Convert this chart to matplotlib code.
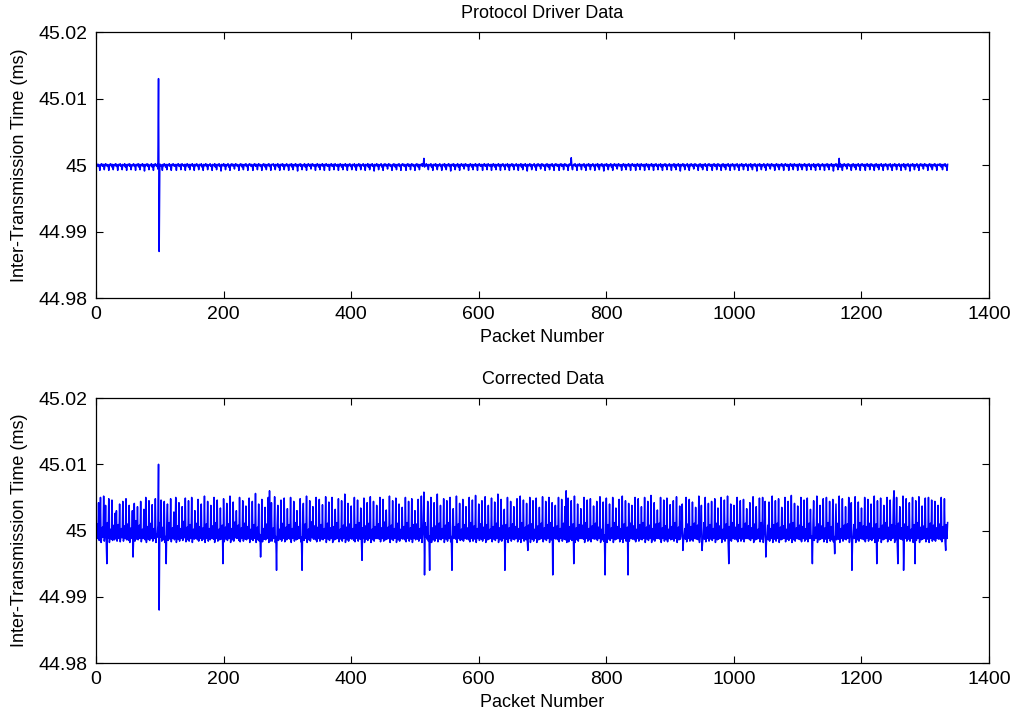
import numpy as np
import matplotlib
matplotlib.use("Agg")
import matplotlib.pyplot as plt

# values, in units of 0.0001 ms relative to 45 ms
nominal_ms = 45.0
unit_ms = 1e-4

# top panel: raw timestamps from the protocol driver
driver_dev = [
    2, 0, -2, 1, -1, -8, 1, 0, 2, -2, -1, 1, -7, 0, 2, -1, 1, -2, 0, -8,
    1, -1, 2, 0, -3, 1, -7, 0, 1, -1, 2, -2, 0, -8, 1, -1, 1, 2, -2, 0,
    -7, 1, 0, -1, 2, -3, 0, -8, 1, -1, 0, 2, -2, 1, -7, 0, -1, 1, 2, -2,
    0, -8, 1, 0, -1, 2, -3, 1, -7, 0, 1, -1, 2, -2, 0, -9, 1, -1, 0, 2,
    -2, 1, -7, 0, -1, 1, 2, -3, 0, -8, 1, -1, 2, 0, -2, 1, -6, 130, -130, 1,
    1, -2, 0, -8, 1, -1, 2, 0, -3, 1, -7, 0, 1, -1, 2, -2, 0, -8, 1, 0,
    2, -1, -2, 1, 0, -8, 1, 0, 2, -2, -1, 1, -7, 1, 2, -1, 0, -2, 1, -8,
    1, -1, 2, 0, -3, 1, -7, 0, 1, -1, 2, -2, 0, -8, 1, -1, 1, 2, -2, 0,
    -7, 1, 0, -1, 2, -3, 0, -8, 1, -1, 0, 2, -2, 1, -7, 0, -1, 1, 2, -2,
    0, -8, 1, 0, -1, 2, -3, 1, -7, 0, 1, -1, 2, -2, 0, -9, 1, -1, 0, 2,
    -2, 1, -7, 0, -1, 1, 2, -3, 0, -8, 1, -1, 2, 0, -2, 1, -6, 0, 2, -1,
    1, -2, 0, -8, 1, -1, 2, 0, -3, 1, -7, 0, 1, -1, 2, -2, 0, -8, 1, 0,
    2, 0, -2, 1, -1, -8, 1, 0, 2, -2, -1, 1, -7, 0, 2, -1, 1, -2, 0, -8,
    1, -1, 2, 0, -3, 1, -7, 0, 1, -1, 2, -2, 0, -8, 1, 0, 1, 2, -2, 0,
    -7, 1, 0, -1, 2, -3, 0, -8, 1, -1, 0, 2, -2, 1, -7, 0, -1, 1, 2, -2,
    0, -8, 1, 0, -1, 2, -3, 1, -7, 0, 1, -1, 2, -2, 0, -9, 1, -1, 0, 2,
    -2, 1, -7, 0, -1, 1, 2, -3, 0, -8, 1, -1, 2, 0, -2, 1, -6, 0, 2, -1,
    1, -2, 0, -8, 1, -1, 2, 0, -3, 1, -7, 0, 1, -1, 2, -2, 0, -8, 1, 0,
    2, -1, -2, 1, 0, -8, 1, 0, 2, -2, -1, 1, -7, 1, 2, -1, 0, -2, 1, -8,
    1, -1, 2, 0, -3, 1, -7, 0, 1, -1, 2, -2, 0, -8, 1, -1, 1, 2, -2, 0,
    -7, 1, 0, -1, 2, -3, 0, -8, 1, -1, 0, 2, -2, 1, -7, 0, -1, 1, 2, -2,
    0, -8, 1, 0, -1, 2, -3, 1, -7, 0, 1, -1, 2, -2, 0, -9, 1, -1, 0, 2,
    -2, 1, -7, 0, -1, 1, 2, -3, 0, -8, 1, -1, 2, 0, -2, 1, -6, 0, 2, -1,
    1, -2, 0, -8, 1, -1, 2, 0, -3, 1, -7, 0, 1, -1, 2, -2, 0, -8, 1, 0,
    2, 0, -2, 1, -1, -8, 1, 0, 2, -2, -1, 1, -7, 0, 2, -1, 1, -2, 0, -8,
    1, -1, 2, 0, -3, 1, -7, 0, 1, -1, 2, -2, 0, 10, -3, -1, 1, 2, -2, 0,
    -7, 1, 0, -1, 2, -3, 0, -8, 1, -1, 0, 2, -2, 1, -7, 0, -1, 1, 2, -2,
    0, -8, 1, 0, -1, 2, -3, 1, -7, 0, 1, -1, 2, -2, 0, -9, 1, -1, 0, 2,
    -2, 1, -7, 0, -1, 1, 2, -3, 0, -8, 1, -1, 2, 0, -2, 1, -6, 0, 2, -1,
    1, -2, 0, -8, 1, -1, 2, 0, -3, 1, -7, 0, 1, -1, 2, -2, 0, -8, 1, 0,
    2, -1, -2, 1, 0, -8, 1, 0, 2, -2, -1, 1, -7, 1, 2, -1, 0, -2, 1, -8,
    1, -1, 2, 0, -3, 1, -7, 0, 1, -1, 2, -2, 0, -8, 1, -1, 1, 2, -2, 0,
    -7, 1, 0, -1, 2, -3, 0, -8, 1, -1, 0, 2, -2, 1, -7, 0, -1, 1, 2, -2,
    0, -8, 1, 0, -1, 2, -3, 1, -7, 0, 1, -1, 2, -2, 0, -9, 1, -1, 0, 2,
    -2, 1, -7, 0, -1, 1, 2, -3, 0, -8, 1, -1, 2, 0, -2, 1, -6, 0, 2, -1,
    1, -2, 0, -8, 1, -1, 2, 0, -3, 1, -7, 0, 1, -1, 2, -2, 0, -8, 1, 0,
    2, 0, -2, 1, -1, -8, 1, 0, 2, -2, -1, 1, -7, 0, 2, -1, 1, -2, 0, -8,
    1, -1, 2, 0, 11, -3, -7, 0, 1, -1, 2, -2, 0, -8, 1, -1, 1, 2, -2, 0,
    -7, 1, 0, -1, 2, -3, 0, -8, 1, -1, 0, 2, -2, 1, -7, 0, -1, 1, 2, -2,
    0, -8, 1, 0, -1, 2, -3, 1, -7, 0, 1, -1, 2, -2, 0, -9, 1, -1, 0, 2,
    -2, 1, -7, 0, -1, 1, 2, -3, 0, -8, 1, -1, 2, 0, -2, 1, -6, 0, 2, -1,
    1, -2, 0, -8, 1, -1, 2, 0, -3, 1, -7, 0, 1, -1, 2, -2, 0, -8, 1, 0,
    2, -1, -2, 1, 0, -8, 1, 0, 2, -2, -1, 1, -7, 1, 2, -1, 0, -2, 1, -8,
    1, -1, 2, 0, -3, 1, -7, 0, 1, -1, 2, -2, 0, -8, 1, -1, 1, 2, -2, 0,
    -7, 1, 0, -1, 2, -3, 0, -8, 1, -1, 0, 2, -2, 1, -7, 0, -1, 1, 2, -2,
    0, -8, 1, 0, -1, 2, -3, 1, -7, 0, 1, -1, 2, -2, 0, -9, 1, -1, 0, 2,
    -2, 1, -7, 0, -1, 1, 2, -3, 0, -8, 1, -1, 2, 0, -2, 1, -6, 0, 2, -1,
    1, -2, 0, -8, 1, -1, 2, 0, -3, 1, -7, 0, 1, -1, 2, -2, 0, -8, 1, 0,
    2, 0, -2, 1, -1, -8, 1, 0, 2, -2, -1, 1, -7, 0, 2, -1, 1, -2, 0, -8,
    1, -1, 2, 0, -3, 1, -7, 0, 1, -1, 2, -2, 0, -8, 1, -1, 1, 2, -2, 0,
    -7, 1, 0, -1, 2, -3, 0, -8, 1, -1, 0, 2, -2, 1, -7, 0, -1, 1, 2, -2,
    0, -8, 1, 0, -1, 2, -3, 1, -7, 0, 1, -1, 2, -2, 0, -9, 1, -1, 0, 2,
    -2, 1, -7, 0, -1, 1, 2, -3, 0, -8, 1, -1, 2, 0, -2, 1, -6, 0, 2, -1,
    1, -2, 0, -8, 1, -1, 2, 0, -3, 1, -7, 0, 1, -1, 2, -2, 0, -8, 1, 0,
    2, -1, -2, 1, 0, -8, 1, 0, 2, -2, -1, 1, -7, 1, 2, -1, 0, -2, 1, -8,
    1, -1, 2, 0, -3, 1, -7, 0, 1, -1, 2, -2, 0, -8, 1, -1, 1, 2, -2, 0,
    -7, 1, 0, -1, 2, -3, 0, -8, 1, -1, 0, 2, -2, 1, -7, 0, -1, 1, 2, -2,
    0, -8, 1, 0, -1, 2, -3, 1, -7, 0, 1, -1, 2, -2, 0, -9, 1, -1, 0, 2,
    -2, 1, -7, 0, 10, -3, 2, -3, 0, -8, 1, -1, 2, 0, -2, 1, -6, 0, 2, -1,
    1, -2, 0, -8, 1, -1, 2, 0, -3, 1, -7, 0, 1, -1, 2, -2, 0, -8, 1, 0,
    2, 0, -2, 1, -1, -8, 1, 0, 2, -2, -1, 1, -7, 0, 2, -1, 1, -2, 0, -8,
    1, -1, 2, 0, -3, 1, -7, 0, 1, -1, 2, -2, 0, -8, 1, -1, 1, 2, -2, 0,
    -7, 1, 0, -1, 2, -3, 0, -8, 1, -1, 0, 2, -2, 1, -7, 0, -1, 1, 2, -2,
    0, -8, 1, 0, -1, 2, -3, 1, -7, 0, 1, -1, 2, -2, 0, -9, 1, -1, 0, 2,
    -2, 1, -7, 0, -1, 1, 2, -3, 0, -8, 1, -1, 2, 0, -2, 1, -6, 0, 2, -1,
    1, -2, 0, -8, 1, -1, 2, 0, -3, 1, -7, 0, 1, -1, 2, -2, 0, -8, 1, 0,
    1, -1, 2, 0, -3, 1, -7, 0, 1, -1, 2, -2, 0, -8, 1,
]

# bottom panel: after the correction step
corrected_dev = [
    -5, 10, -12, 42, -15, -8, 50, -18, -9, 5, -10, 52, -16, -6, 38, -14, -50, 12, -12, 48,
    -18, -7, 2, -13, 46, -15, -10, 8, -14, 26, -12, 30, -16, -5, 9, -12, 40, -17, -8, 3,
    -11, 44, -16, -8, 7, -12, 48, -14, -6, 10, -15, 38, -18, -9, 4, -12, 30, -40, -10, 41,
    -16, -8, 15, -13, 36, -14, -5, 8, -12, 44, -17, -10, 2, -12, 32, -9, -14, 50, -18, -8,
    6, -13, 45, -15, -7, 11, -12, 39, -16, -10, 3, -12, 48, -18, -6, -10, 8, 100, -120, 12,
    -10, 46, -16, -8, 5, -14, 44, -18, -9, -50, 12, 40, -15, -7, 12, -13, 48, -17, -9, 4,
    -12, 28, -14, -6, 50, -18, -10, 7, -13, 42, -16, -8, 3, -12, 36, -15, -9, 14, -11, 49,
    -17, -7, 5, -14, 45, -16, -10, 9, -12, 50, -18, -6, 2, -13, 30, -12, -8, 11, -14, 47,
    -16, -9, 6, -12, 40, -15, -9, 4, -13, 52, -18, -7, 10, -12, 44, -16, -8, 3, -14, 38,
    -12, -10, 7, -13, 50, -18, -6, 12, -12, 46, -16, -9, 2, -14, 34, -13, -8, 8, -50, 48,
    -17, -8, 5, -13, 41, -15, -10, 10, -12, 52, -18, -7, 3, -14, 43, -16, -9, 13, -11, 30,
    -12, -6, 8, -15, 50, -17, -10, 4, -12, 45, -16, -8, 11, -13, 37, -14, -9, 6, -12, 49,
    -18, -7, 2, -13, 44, -15, -9, 9, -12, 56, -18, -10, 5, -14, 40, -16, -6, -40, -12, 47,
    -17, -9, 3, -13, 35, -14, -8, 10, -12, 50, -18, 60, -16, -15, 42, -16, -10, 4, -12, 51,
    -18, -9, -60, 8, 38, -15, -9, 2, -13, 46, -16, -7, 11, -12, 49, -17, -10, 5, -14, 33,
    -12, -8, 9, -13, 50, -18, -6, 3, -12, 44, -16, -9, 12, -14, 30, -13, -7, 6, -12, 48,
    -17, -10, -60, 10, 41, -15, -8, 10, -12, 52, -18, -8, 2, -14, 45, -16, -9, 13, -11, 36,
    -13, -7, 7, -14, 50, -17, -10, 5, -12, 47, -16, -8, 9, -13, 39, -14, -6, 3, -12, 51,
    -18, -9, 11, -13, 43, -15, -8, 4, -12, 50, -18, -10, 6, -14, 32, -13, -10, 12, -12, 48,
    -17, -7, 2, -13, 45, -16, -9, 8, -12, 55, -18, -10, 5, -14, 41, -16, -7, 10, -12, 37,
    -13, -8, 3, -15, 50, -17, -9, 9, -12, 46, -16, -9, 12, -13, 34, -14, -45, 4, -12, 49,
    -18, -10, 7, -13, 42, -15, -8, 11, -12, 51, -18, -7, 2, -14, 44, -16, -9, 6, -12, 38,
    -12, -6, 10, -13, 50, -17, -10, 4, -12, 47, -16, -8, 13, -14, 31, -13, -9, 5, -12, 52,
    -18, -9, 8, -13, 45, -15, -7, 3, -12, 49, -18, -10, 11, -14, 40, -16, -8, 2, -12, 35,
    -13, -9, 6, -14, 50, -17, -7, 12, -12, 44, -16, -10, 4, -13, 48, -18, -9, 9, -12, 30,
    -14, -8, 10, -13, 47, -16, -9, 3, -12, 52, -18, -7, 6, 58, -67, 12, -10, 5, -13, 44,
    -16, -8, -60, 9, 50, -18, -10, 4, -14, 42, -16, -9, 7, -12, 55, -17, -9, 11, -13, 38,
    -14, -7, 3, -12, 48, -18, -10, 8, -13, 45, -16, -8, 12, -12, 50, -17, -9, -60, 5, 33,
    -12, -9, 6, -13, 52, -18, -7, 10, -12, 41, -15, -9, 2, -14, 47, -16, -10, 9, -12, 36,
    -13, -8, 4, -14, 50, -17, -6, 12, -12, 46, -16, -9, 7, -13, 53, -18, -10, 3, -12, 40,
    -15, -8, 10, -13, 45, -16, -9, 5, -12, 51, -18, -7, 9, -14, 38, -13, -9, 2, -12, 49,
    -17, -10, 6, -13, 43, -15, -8, 11, -12, 55, -18, -9, 4, -14, 47, -16, -7, 8, -12, 32,
    -60, -8, 9, -13, 50, -18, -10, 4, -12, 44, -16, -9, 10, -13, 36, -14, -7, 6, -12, 48,
    -17, -9, 3, -13, 52, -18, -8, 12, -12, 46, -16, -10, 5, -14, 41, -15, -30, 8, -12, 50,
    -18, -7, 10, -13, 45, -16, -9, 2, -12, 49, -18, -10, 7, -14, 35, -13, -8, 11, -12, 51,
    -17, -9, 4, -13, 44, -15, -8, 9, -12, 50, -18, -7, 12, -14, 42, -67, -10, 5, -12, 38,
    -13, -8, 7, -14, 50, -17, -10, 3, -12, 47, -16, -9, 11, -13, 36, -14, 60, -18, -12, 49,
    -17, -10, 6, -13, 45, -15, -8, 10, -50, 52, -18, -7, 4, -14, 40, -16, -9, 9, -12, 33,
    -12, -9, 8, -13, 50, -18, -6, 12, -12, 46, -16, -10, 3, -14, 48, -17, -8, 7, -12, 37,
    -13, -8, 11, -13, 44, -15, -9, 5, -12, 51, -18, -10, 2, -14, 43, -16, -7, -67, 10, 49,
    -18, -7, 9, -13, 40, -15, -10, 4, -12, 50, -18, -8, 12, -14, 34, -13, -9, 6, -12, 47,
    -17, -9, 3, -13, 52, -18, -7, 10, -12, 45, -16, -10, 5, -67, 41, -16, -8, 11, -12, 38,
    -13, -9, 7, -14, 50, -17, -6, 2, -12, 48, -16, -10, 9, -13, 36, -14, -8, 12, -12, 50,
    -18, -10, 5, -13, 44, -15, -9, 8, -12, 53, -18, -7, 3, -14, 42, -16, -9, 10, -12, 31,
    -12, -8, 11, -13, 50, -18, -10, 4, -12, 46, -16, -9, 7, -14, 49, -17, -8, 2, -12, 39,
    -14, -9, 6, -13, 45, -16, -7, 12, -12, 51, -18, -10, 5, -14, 37, -13, -9, 9, 40, -30,
    -15, -8, 3, -13, 50, -17, -10, 10, -12, 47, -16, -8, 6, -14, 43, -16, -9, 11, -12, 35,
    -13, -7, 8, -14, 52, -18, -9, 4, 38, -30, -16, -10, 12, -13, 50, -17, -8, 5, -12, 41,
    -16, -9, 9, -13, 44, -15, -10, 3, -12, 48, -18, -7, 11, -14, 34, -13, -8, 7, -12, 50,
    -18, -10, 2, -13, 46, -16, -9, 10, -12, 52, -18, -50, 6, -14, 40, -16, -7, 12, -12, 38,
    -13, -8, 5, -14, 50, -17, -10, 9, -12, 45, -16, -9, 3, -13, 47, -17, -8, 11, -12, 33,
    -12, -9, 7, -13, 42, -15, -7, 4, -12, 51, -18, -10, 10, -14, 36, -13, -9, 2, -12, 49,
    -17, -8, 12, -13, 50, -18, -9, 6, 44, -40, -16, -10, 8, -14, 43, -16, -7, 3, -12, 52,
    -18, -10, 9, -13, 45, -16, -8, 11, -12, 48, -18, -9, 5, -14, 35, -13, -10, 7, -12, 50,
    -17, -7, 2, -13, 44, -15, -9, 10, -12, 53, -18, -8, 12, -14, 41, -16, -9, 4, -12, 37,
    -13, -10, 8, -14, 50, -17, -7, 6, -12, 46, -16, -9, 3, -13, 49, -17, -10, 11, -12, 32,
    -12, -8, -50, 9, 45, -15, -9, 5, -12, 52, -18, -10, 10, -14, 38, -13, -8, 7, -12, 48,
    -17, -9, 4, -13, 50, -18, -7, 12, -12, 44, -16, -10, 6, -14, 47, -17, -9, -35, 2, 40,
    -14, -8, 11, -13, 52, -18, -10, 3, -12, 48, -16, -9, 8, -13, 36, -14, -7, 10, -12, 50,
    -18, -10, 5, 42, -60, -15, -8, 9, -12, 51, -18, -9, 2, -14, 43, -16, -10, 12, -12, 34,
    -13, -7, 7, -14, 50, -17, -9, 6, -12, 47, -16, -8, 11, -13, 40, -15, -10, 4, -12, 52,
    -18, -9, 10, -50, 45, -16, -7, 3, -12, 49, -18, -10, 8, -14, 38, -13, -9, 12, -12, 50,
    -17, -8, 5, -13, 46, -15, -10, 9, -12, 44, 60, -18, 7, -14, 50, -17, -50, 11, -12, 36,
    -13, -9, 4, -14, 52, -60, -8, 10, -12, 48, -16, -10, 6, -13, 42, -16, -7, 2, -12, 50,
    -18, -10, 9, -50, 45, -15, -9, 12, -12, 51, -18, -8, 5, -14, 37, -13, -10, 7, -12, 49,
    -17, -9, 3, -13, 50, -18, -7, 11, -12, 46, -16, -10, 8, -14, 44, -16, -8, 4, -12, 38,
    -13, -9, 10, -14, 50, -17, -10, 6, -12, 48, -16, -30, 9, -12, 12,
]

titles = ["Protocol Driver Data", "Corrected Data"]
x_ticks = [0, 200, 400, 600, 800, 1000, 1200, 1400]
y_ticks = [44.98, 44.99, 45.0, 45.01, 45.02]
y_ticklabels = ["44.98", "44.99", "45", "45.01", "45.02"]

plt.rcParams["font.family"] = ["Liberation Sans", "DejaVu Sans"]
plt.rcParams["font.size"] = 13

fig = plt.figure(figsize=(10.16, 7.14), dpi=100)
ax_top = fig.add_axes([0.0945, 0.5826, 0.879, 0.3725])
ax_bot = fig.add_axes([0.0945, 0.0714, 0.879, 0.3711])

for ax, dev, title in zip([ax_top, ax_bot], [driver_dev, corrected_dev], titles):
    y = nominal_ms + np.array(dev) * unit_ms
    x = np.arange(1, len(y) + 1)
    ax.plot(x, y, color=(0, 0, 1), linewidth=1.1)

    ax.set_xlim(0, 1400)
    ax.set_ylim(44.98, 45.02)
    ax.set_xticks(x_ticks)
    ax.set_yticks(y_ticks)
    ax.set_yticklabels(y_ticklabels)
    # matlab style: inward ticks on all four sides
    ax.tick_params(direction="in", length=5, width=0.8, top=True, right=True,
                   labelsize=14, pad=6)
    for sp in ax.spines.values():
        sp.set_linewidth(0.9)

    ax.set_title(title, fontsize=13, pad=10)
    ax.set_xlabel("Packet Number", fontsize=13, labelpad=4)
    ax.set_ylabel("Inter-Transmission Time (ms)", fontsize=13, labelpad=8)

fig.savefig("out.png", dpi=100)
